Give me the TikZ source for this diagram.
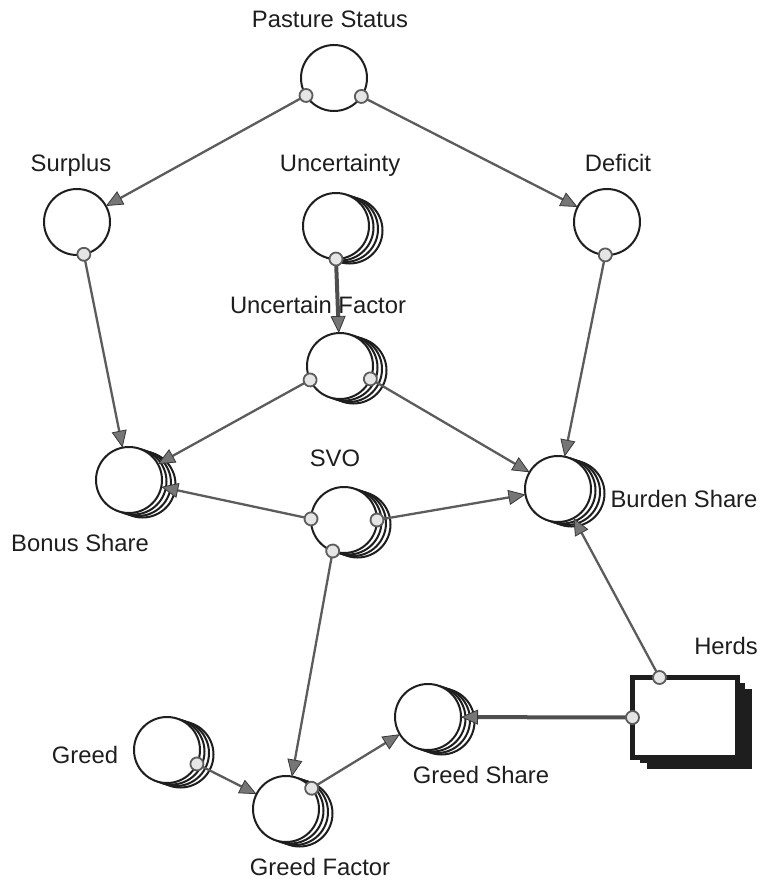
\documentclass[tikz,border=0pt]{standalone}
\usepackage{fontspec}
\setmainfont{Liberation Sans}
\usetikzlibrary{arrows.meta,shadows,decorations.markings}
\definecolor{ink}{HTML}{1E1E1E}
\definecolor{wire}{HTML}{5C5C5C}
\definecolor{headfill}{HTML}{767676}
\definecolor{headline}{HTML}{383838}
\begin{document}
\begin{tikzpicture}[x=1pt,y=-1pt,
  conv/.style={circle, draw=ink, line width=2pt, fill=white,
    minimum size=66pt, inner sep=0pt, outer sep=0pt},
  backring/.style={general shadow={shadow xshift=#1*4.5pt, shadow yshift=-#1*1.5pt,
    draw=ink, fill=white, line width=2pt}},
  stacked/.style={backring=3, backring=2, backring=1, conv},
  backbox/.style={general shadow={shadow xshift=#1*7pt, shadow yshift=-#1*5.5pt,
    draw=none, fill=ink}},
  stock/.style={backbox=2, backbox=1, rectangle, draw=ink, line width=5pt, fill=white,
    minimum width=105pt, minimum height=80pt, inner sep=0pt, outer sep=0pt},
  lbl/.style={anchor=base, inner sep=0pt, text=ink,
    font=\fontsize{23.8}{28}\selectfont},
  link/.style={draw=wire, line width=2.3pt,
    -{Triangle[length=17pt, width=15pt, fill=headfill, color=headline, line width=0.8pt]},
    postaction={decorate, decoration={markings, mark=at position 0 with
      {\draw[draw=wire, fill=gray!20, line width=1.8pt] (0,0) circle (6.5pt);}}}},
  heavy/.style={line width=4pt, draw=wire!85!black}]

\useasboundingbox (0,0) rectangle (760,885);

% stock and converters
\node[conv] (ps) at (334,78) {};
\node[conv] (sur) at (77,222) {};
\node[conv] (def) at (607,222) {};
\node[stacked] (unc) at (336,226) {};
\node[stacked] (uf) at (340,366) {};
\node[stacked] (bon) at (129,480) {};
\node[stacked] (svo) at (344,520) {};
\node[stacked] (bur) at (558,489) {};
\node[stock] (herds) at (685,717.5) {};
\node[stacked] (gr) at (167,750) {};
\node[stacked] (gf) at (286,809) {};
\node[stacked] (gs) at (428,717) {};

% labels
\node[lbl] (psL) at (330,28) {Pasture Status};
\node[lbl] (surL) at (71,172) {Surplus};
\node[lbl] (uncL) at (340,172) {Uncertainty};
\node[lbl] (defL) at (618,172) {Deficit};
\node[lbl] (ufL) at (318,313) {Uncertain Factor};
\node[lbl] (bonL) at (80,551) {Bonus Share};
\node[lbl] (svoL) at (335,466) {SVO};
\node[lbl] (burL) at (684,507) {Burden Share};
\node[lbl] (herdsL) at (726,654) {Herds};
\node[lbl] (grL) at (85,763) {Greed};
\node[lbl] (gfL) at (320,875) {Greed Factor};
\node[lbl] (gsL) at (481,783) {Greed Share};

% connectors
\draw[link] (ps.212) -- (sur);
\draw[link] (ps.326) -- (def);
\draw[link] (sur.282) -- (bon);
\draw[link] (def.267) -- (bur);
\draw[link, heavy] (unc.270) -- (uf);
\draw[link] (uf.205) -- (bon);
\draw[link] (uf.337) -- (bur);
\draw[link] (svo.178) -- (bon);
\draw[link] (svo.0) -- (bur);
\draw[link] (svo.250) -- (gf);
\draw[link] (gr.335) -- (gf);
\draw[link] (gf.39) -- (gs);
\draw[link, heavy] (herds.west) -- (gs);
\draw[link] ([xshift=27pt]herds.north west) -- (bur);
\end{tikzpicture}
\end{document}
